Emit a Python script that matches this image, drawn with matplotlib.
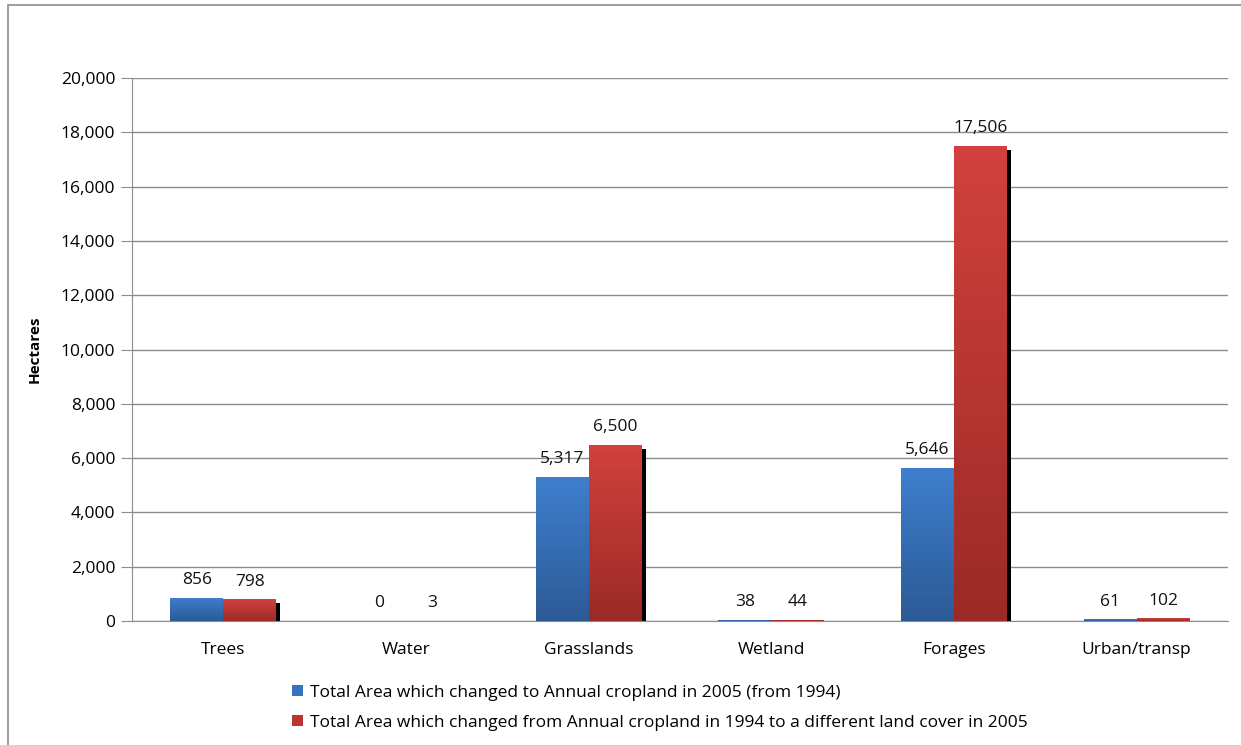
import numpy as np
import matplotlib.pyplot as plt
from matplotlib.colors import LinearSegmentedColormap
from matplotlib.patches import Rectangle
from matplotlib.ticker import FuncFormatter

plt.rcParams['font.family'] = ['Open Sans', 'DejaVu Sans']

categories = ['Trees', 'Water', 'Grasslands', 'Wetland', 'Forages', 'Urban/transp']
to_cropland = [856, 0, 5317, 38, 5646, 61]
from_cropland = [798, 3, 6500, 44, 17506, 102]
labels = ['Total Area which changed to Annual cropland in 2005 (from 1994)',
          'Total Area which changed from Annual cropland in 1994 to a different land cover in 2005']

blue_cmap = LinearSegmentedColormap.from_list('b', ['#2c5a96', '#3e7fcd'])
red_cmap = LinearSegmentedColormap.from_list('r', ['#9b2a27', '#d2413d'])

fig = plt.figure(figsize=(12.41, 7.45), dpi=100)
ax = fig.add_axes([132 / 1241, 1 - 621 / 745, (1228 - 132) / 1241, (621 - 78) / 745])

# outer chart frame
fig.patches.append(Rectangle((8 / 1241, -0.01), 1.1, 1 - 5 / 745 + 0.01, transform=fig.transFigure,
                             fill=False, edgecolor='#8c8c8c', linewidth=1.2))

x = np.arange(len(categories))
w = 0.29
grad = np.linspace(0, 1, 256).reshape(-1, 1)


def gradient_bars(xs, vals, cmap, shadow=False):
    bars = ax.bar(xs, vals, width=w, color='none', edgecolor='none', zorder=3)
    for b in bars:
        h = b.get_height()
        if h <= 0:
            continue
        x0 = b.get_x()
        if shadow:
            # drop shadow behind bar
            ax.add_patch(Rectangle((x0 + 0.022, 0), w, max(h - 150, 0), facecolor='black',
                                   edgecolor='none', zorder=2))
        im = ax.imshow(grad, cmap=cmap, aspect='auto', origin='lower',
                       extent=(x0, x0 + w, 0, h), zorder=3)
        im.set_clip_path(b)
    return bars


gradient_bars(x - w / 2, to_cropland, blue_cmap)
gradient_bars(x + w / 2, from_cropland, red_cmap, shadow=True)

for xi, v in zip(x - w / 2, to_cropland):
    ax.text(xi, v + 350, f'{v:,}', ha='center', va='bottom', fontsize=12.5, color='#111111')
for xi, v in zip(x + w / 2, from_cropland):
    ax.text(xi, v + 350, f'{v:,}', ha='center', va='bottom', fontsize=12.5, color='#111111')

ax.set_xlim(-0.5, len(categories) - 0.5)
ax.set_ylim(0, 20000)
ax.set_yticks(np.arange(0, 20001, 2000))
ax.yaxis.set_major_formatter(FuncFormatter(lambda v, p: f'{int(v):,}'))
ax.set_xticks(x)
ax.set_xticklabels(categories)
ax.tick_params(axis='x', length=0, pad=15, labelsize=12.5)
ax.tick_params(axis='y', length=8, color='#8c8c8c', labelsize=12.5, pad=4)
ax.grid(axis='y', color='#8c8c8c', linewidth=1)
ax.set_axisbelow(True)
for s in ['top', 'right']:
    ax.spines[s].set_visible(False)
ax.spines['left'].set_color('#8c8c8c')
ax.spines['bottom'].set_color('#8c8c8c')
ax.set_ylabel('Hectares', fontweight='bold', fontsize=11, labelpad=14)

# legend
handles = [Rectangle((0, 0), 1, 1, facecolor='#3872be'), Rectangle((0, 0), 1, 1, facecolor='#bb3532')]
fig.legend(handles, labels, loc='upper left', bbox_to_anchor=(276 / 1241, 1 - 669 / 745),
           frameon=False, fontsize=12.5, handlelength=0.65, handleheight=0.65,
           handletextpad=0.4, labelspacing=0.8)

fig.savefig('out.png', dpi=100)
